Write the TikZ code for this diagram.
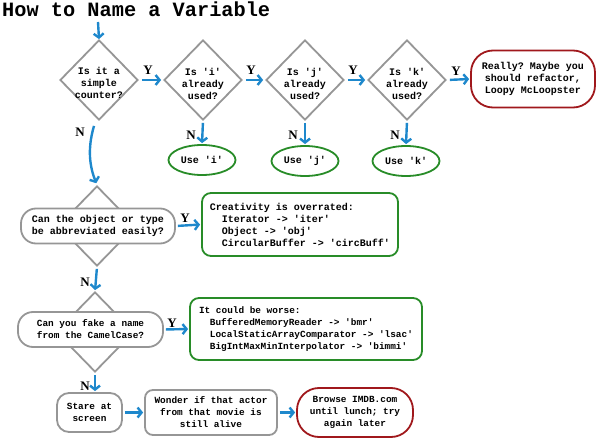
\documentclass[tikz,border=0pt]{standalone}
\usepackage{fontspec}
\setmainfont{Liberation Serif}
\setmonofont{Liberation Mono}
\usetikzlibrary{shapes.geometric,arrows.meta}
\definecolor{flowblue}{RGB}{30,136,204}
\definecolor{flowgray}{RGB}{150,150,150}
\definecolor{flowgreen}{RGB}{40,140,40}
\definecolor{flowred}{RGB}{160,24,28}
\begin{document}
\begin{tikzpicture}[x=1pt,y=-1pt,
  txt/.style={font=\ttfamily\bfseries\fontsize{10}{12}\selectfont, align=center, inner sep=0},
  smalltxt/.style={font=\ttfamily\bfseries\fontsize{9.4}{12}\selectfont, align=center, inner sep=0},
  dia/.style={diamond, draw=flowgray, line width=1.8pt, minimum width=78pt, minimum height=80pt, inner sep=0, fill=white},
  pill/.style={draw=flowgray, line width=1.8pt, fill=white, rounded corners=15pt, minimum height=35pt},
  graybox/.style={draw=flowgray, line width=1.8pt, fill=white, rounded corners=9pt},
  greenbox/.style={draw=flowgreen, line width=1.8pt, rounded corners=9pt},
  greenell/.style={ellipse, draw=flowgreen, line width=1.8pt, minimum width=67pt, minimum height=30pt, inner sep=0},
  redbox/.style={draw=flowred, line width=1.8pt, rounded corners=22pt},
  arr/.style={draw=flowblue, line width=2.4pt, -{Straight Barb[length=4pt,width=10pt]}},
  yn/.style={font=\bfseries\fontsize{13}{13}\selectfont, inner sep=0}
]
\useasboundingbox (0,0) rectangle (600,441);

% title
\node[anchor=base west, font=\ttfamily\bfseries\fontsize{20.3}{22}\selectfont, inner sep=0] (title) at (2,17) {How to Name a Variable};

% top row of diamonds
\node[dia] (d1) at (99,80) {};
\node[txt] (t1) at (99,83) {Is it a\\simple\\counter?};
\node[dia] (d2) at (203,80) {};
\node[txt] (t2) at (203,84) {Is 'i'\\already\\used?};
\node[dia] (d3) at (305,80) {};
\node[txt] (t3) at (305,84) {Is 'j'\\already\\used?};
\node[dia] (d4) at (407,80) {};
\node[txt] (t4) at (407,84) {Is 'k'\\already\\used?};

\node[redbox, minimum width=124pt, minimum height=57pt, txt] (really) at (533,79) {Really? Maybe you\\should refactor,\\Loopy McLoopster};

\node[greenell, txt] (ui) at (202,160) {Use 'i'};
\node[greenell, txt] (uj) at (305,161) {Use 'j'};
\node[greenell, txt] (uk) at (406,161) {Use 'k'};

% entry arrow
\coordinate (start) at (98,22);
\draw[arr] (start) -- (d1.north);

% Y arrows
\draw[arr, shorten <=3pt, shorten >=2pt] (d1.east) -- (d2.west);
\draw[arr, shorten <=3pt, shorten >=2pt] (d2.east) -- (d3.west);
\draw[arr, shorten <=3pt, shorten >=2pt] (d3.east) -- (d4.west);
\draw[arr, shorten <=3pt, shorten >=1pt] (d4.east) -- (really.west);
\node[yn] (y1) at (148,70) {Y};
\node[yn] (y2) at (251,70) {Y};
\node[yn] (y3) at (353,70) {Y};
\node[yn] (y4) at (456,71) {Y};

% N arrows to "Use"
\draw[arr, shorten <=2pt, shorten >=1pt] (d2.south) -- (ui.north);
\draw[arr, shorten <=2pt, shorten >=1pt] (d3.south) -- (uj.north);
\draw[arr, shorten <=2pt, shorten >=1pt] (d4.south) -- (uk.north);
\node[yn] (n2) at (191,135) {N};
\node[yn] (n3) at (293,135) {N};
\node[yn] (n4) at (395,135) {N};

% second decision
\node[dia] (d5) at (97,226) {};
\node[pill, minimum width=154pt, txt] (r5) at (98,226) {Can the object or type\\be abbreviated easily?};
\node[greenbox, minimum width=196pt, minimum height=63pt, txt, align=left] (c5) at (300,224.5) {Creativity is overrated:\\\hspace*{1.2em}Iterator -> 'iter'\\\hspace*{1.2em}Object -> 'obj'\\\hspace*{1.2em}CircularBuffer -> 'circBuff'};

\path (d1.south) ++(-5,5) coordinate (cstart);
\draw[arr, shorten >=2pt] (cstart) .. controls +(-7,24) and +(-7,-18) .. (d5.north);
\node[yn] (n1) at (80,132) {N};

\draw[arr, shorten <=2pt, shorten >=1pt] (r5.east) -- (c5.west);
\node[yn] (y5) at (185,218) {Y};

% third decision
\node[dia] (d6) at (95,332) {};
\node[pill, minimum width=145pt, smalltxt] (r6) at (90.5,329.5) {Can you fake a name\\from the CamelCase?};
\node[greenbox, minimum width=232pt, minimum height=62pt, smalltxt, align=left] (c6) at (306,329) {It could be worse:\\\hspace*{1.15em}BufferedMemoryReader -> 'bmr'\\\hspace*{1.15em}LocalStaticArrayComparator -> 'lsac'\\\hspace*{1.15em}BigIntMaxMinInterpolator -> 'bimmi'};

\draw[arr, shorten <=2pt, shorten >=1pt] (d5.south) -- (d6.north);
\node[yn] (n5) at (85,282) {N};
\draw[arr, shorten <=2pt, shorten >=1pt] (r6.east) -- (c6.west);
\node[yn] (y6) at (172,323) {Y};

% bottom row
\node[graybox, minimum width=65pt, minimum height=39pt, rounded corners=12pt, smalltxt] (s1) at (89.5,412.5) {Stare at\\screen};
\node[graybox, minimum width=132pt, minimum height=45pt, rounded corners=8pt, smalltxt] (s2) at (211,412.5) {Wonder if that actor\\from that movie is\\still alive};
\node[redbox, minimum width=116pt, minimum height=49pt, smalltxt] (s3) at (355,412.5) {Browse IMDB.com\\until lunch; try\\again later};

\draw[arr, shorten <=2pt, shorten >=1pt] (d6.south) -- (d6.south |- s1.north);
\node[yn] (n6) at (85,386) {N};
\draw[arr, shorten <=2pt, shorten >=1pt] (s1.east) -- (s2.west);
\draw[arr, shorten <=2pt, shorten >=1pt] (s2.east) -- (s3.west);
\end{tikzpicture}
\end{document}
